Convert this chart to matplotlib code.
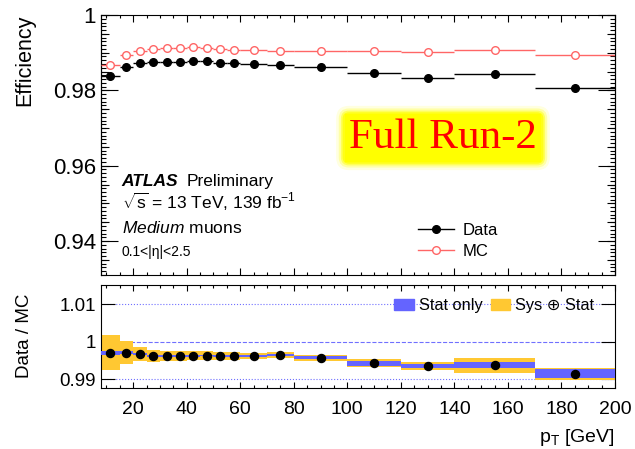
import numpy as np
import matplotlib
matplotlib.use('Agg')
import matplotlib.pyplot as plt
from matplotlib.lines import Line2D
from matplotlib.patches import Patch
from matplotlib.ticker import MultipleLocator, NullLocator, NullFormatter

plt.rcParams['font.family'] = ['Liberation Sans', 'DejaVu Sans']
plt.rcParams['mathtext.fontset'] = 'custom'
plt.rcParams['mathtext.rm'] = 'Liberation Sans'
plt.rcParams['mathtext.it'] = 'Liberation Sans:italic'
plt.rcParams['mathtext.bf'] = 'Liberation Sans:bold'

# pT bins [GeV]
bin_edges = [8, 15, 20, 25, 30, 35, 40, 45, 50, 55, 60, 70, 80, 100, 120, 140, 170, 200]

# efficiencies
eff_data = [0.9838, 0.9863, 0.9872, 0.9874, 0.9874, 0.9875, 0.9877, 0.9877, 0.9873,
            0.9872, 0.9870, 0.9867, 0.9863, 0.9845, 0.9834, 0.9844, 0.9807]
eff_mc = [0.9867, 0.9894, 0.9905, 0.9910, 0.9912, 0.9912, 0.9914, 0.9913, 0.9910,
          0.9908, 0.9907, 0.9904, 0.9905, 0.9904, 0.9901, 0.9906, 0.9894]

# scale factors and uncertainties
sf = [0.9970, 0.9971, 0.9967, 0.9962, 0.9962, 0.9962, 0.9962, 0.9963, 0.9962,
      0.9962, 0.9962, 0.9964, 0.9957, 0.9942, 0.9935, 0.9937, 0.9914]
sf_stat = [0.0005, 0.0004, 0.0003, 0.00025, 0.0002, 0.0002, 0.0002, 0.0002, 0.0002,
           0.0002, 0.00025, 0.0003, 0.00045, 0.0006, 0.00065, 0.0008, 0.0012]
sf_tot = [0.0047, 0.0031, 0.0019, 0.0016, 0.0014, 0.0013, 0.0012, 0.0011, 0.0011,
          0.0010, 0.0009, 0.0008, 0.00085, 0.0011, 0.0011, 0.0020, 0.0016]

edges = np.array(bin_edges, dtype=float)
centers = 0.5 * (edges[1:] + edges[:-1])
halfw = 0.5 * (edges[1:] - edges[:-1])
sf = np.array(sf)
sf_stat = np.array(sf_stat)
sf_tot = np.array(sf_tot)

RED = '#ff6666'
BLUE = '#6464ff'
YELLOW = '#ffc832'

fig = plt.figure(figsize=(6.35, 4.49), dpi=100)
ax1 = fig.add_axes([101/635, 1 - 275/449, 514/635, 260/449])
ax2 = fig.add_axes([101/635, 1 - 388/449, 514/635, 103/449])

# --- top panel
ax1.errorbar(centers, eff_mc, xerr=halfw, fmt='o', color=RED, mfc='white', mec=RED,
             ms=5.5, elinewidth=1, capsize=0, zorder=3)
ax1.errorbar(centers, eff_data, xerr=halfw, fmt='o', color='black', ms=5.5,
             elinewidth=1, capsize=0, zorder=4)
ax1.set_xlim(8, 200)
ax1.set_ylim(0.931, 1.0)
ax1.set_ylabel('Efficiency', fontsize=15.5, loc='top')
ax1.yaxis.set_label_coords(-0.128, 1.0)
ax1.yaxis.set_major_locator(MultipleLocator(0.02))
ax1.yaxis.set_minor_locator(MultipleLocator(0.001))
ax1.yaxis.set_major_formatter(matplotlib.ticker.FuncFormatter(
    lambda v, p: '1' if abs(v - 1) < 1e-9 else f'{v:.2f}'))
ax1.xaxis.set_major_locator(MultipleLocator(20))
ax1.xaxis.set_minor_locator(MultipleLocator(5))
ax1.tick_params(axis='both', which='both', direction='in', top=True, right=True,
                labelbottom=False, width=0.8)
ax1.tick_params(axis='y', which='major', length=12, labelsize=16, pad=3.5)
ax1.tick_params(axis='y', which='minor', length=3.5)
ax1.tick_params(axis='x', which='major', length=5)
ax1.tick_params(axis='x', which='minor', length=2.5)
for side in ['left', 'right']:
    sec = ax1.secondary_yaxis(side)
    sec.yaxis.set_major_locator(MultipleLocator(0.005))
    sec.yaxis.set_minor_locator(NullLocator())
    sec.yaxis.set_major_formatter(NullFormatter())
    sec.tick_params(direction='in', length=6, width=0.8)

handles = [Line2D([], [], color='black', marker='o', ms=5.5, lw=1),
           Line2D([], [], color=RED, marker='o', ms=5.5, mfc='white', mec=RED, lw=1)]
ax1.legend(handles, ['Data', 'MC'], loc='lower left', bbox_to_anchor=(0.6, 0.03),
           frameon=False, fontsize=12, handlelength=2.2, handletextpad=0.5,
           labelspacing=0.35, borderpad=0)

fig.text(121.7/635, 1 - 186/449, 'ATLAS', fontsize=12.5, fontweight='bold',
         fontstyle='italic', va='baseline')
fig.text(186.7/635, 1 - 186/449, 'Preliminary', fontsize=12.5, va='baseline')
fig.text(121.7/635, 1 - 209.3/449,
         r'$\sqrt{\mathregular{s}}$ = 13 TeV, 139 fb$^{\mathregular{-1}}$',
         fontsize=12.5, va='baseline')
fig.text(121.7/635, 1 - 233.3/449, r'$\mathit{Medium}$ muons', fontsize=12.5, va='baseline')
fig.text(121.7/635, 1 - 256/449, '0.1<|η|<2.5', fontsize=10, va='baseline')

# "Full Run-2" label with yellow glow
tx, ty = 443/635, 1 - 138/449
for pad, alpha in [(0.3, 0.12), (0.24, 0.25), (0.19, 0.45), (0.15, 0.75)]:
    fig.text(tx, ty, 'Full Run-2', fontsize=31, family='Liberation Serif', color='none',
             ha='center', va='center',
             bbox=dict(boxstyle=f'round,pad={pad}', fc='#ffff00', ec='none', alpha=alpha))
fig.text(tx, ty, 'Full Run-2', fontsize=31, family='Liberation Serif', color='#ff0000',
         ha='center', va='center',
         bbox=dict(boxstyle='square,pad=0.1', fc='#ffff00', ec='none'))

# --- ratio panel
for yv, ls in [(1.01, ':'), (1.0, '--'), (0.99, ':')]:
    ax2.axhline(yv, color='#7070ff', ls=ls, lw=0.8, zorder=1)
ax2.stairs(sf + sf_tot, edges, baseline=sf - sf_tot, fill=True, color=YELLOW, zorder=2)
ax2.stairs(sf + sf_stat, edges, baseline=sf - sf_stat, fill=True, color=BLUE, zorder=3)
ax2.plot(centers, sf, 'o', color='black', ms=5.8, zorder=4)
ax2.set_xlim(8, 200)
ax2.set_ylim(0.9876, 1.0152)
ax2.set_yticks([0.99, 1.0, 1.01])
ax2.set_yticklabels(['0.99', '1', '1.01'])
ax2.xaxis.set_major_locator(MultipleLocator(20))
ax2.xaxis.set_minor_locator(MultipleLocator(5))
ax2.tick_params(axis='both', which='both', direction='in', top=True, right=True, width=0.8)
ax2.tick_params(axis='y', which='major', length=10, labelsize=13.5, pad=3.5)
ax2.tick_params(axis='x', which='major', length=4, labelsize=14, pad=9)
ax2.tick_params(axis='x', which='minor', length=2)
ax2.set_ylabel('Data / MC', fontsize=13.5, loc='top')
ax2.yaxis.set_label_coords(-0.132, 0.92)
ax2.set_xlabel(r'p$_{\mathregular{T}}$ [GeV]', fontsize=14, loc='right')
ax2.xaxis.set_label_coords(1.0, -0.38)

leg_handles = [Patch(color=BLUE), Patch(color=YELLOW)]
ax2.legend(leg_handles, ['Stat only', 'Sys ⊕ Stat'], ncol=2, loc='upper right',
           bbox_to_anchor=(0.985, 1.0), frameon=False, fontsize=11.8,
           handlelength=1.2, handleheight=0.7, handletextpad=0.3, columnspacing=0.5,
           borderpad=0.3)

for ax in (ax1, ax2):
    for s in ax.spines.values():
        s.set_linewidth(0.8)

fig.savefig('out.png', dpi=100)
